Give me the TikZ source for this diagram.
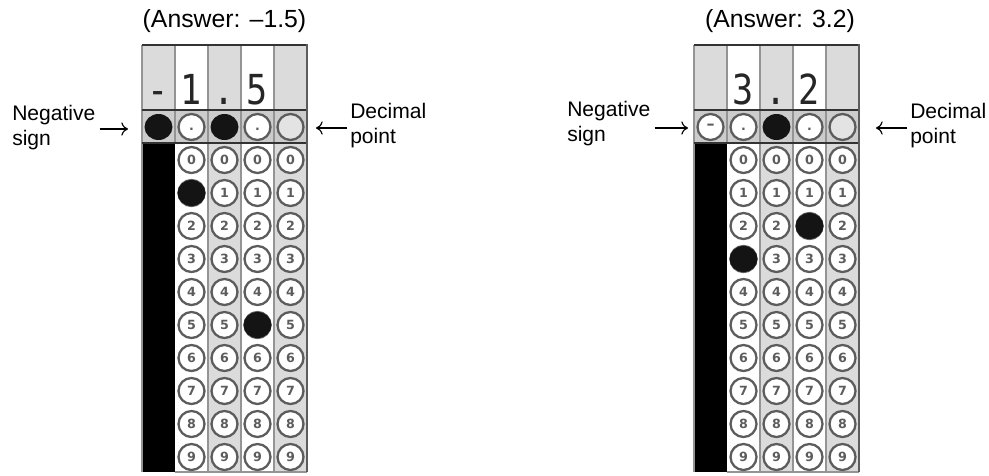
\documentclass[tikz,border=0pt]{standalone}
\usepackage{fontspec}
\setmainfont{Liberation Sans}
\newfontfamily\monof{DejaVu Sans Mono}
\newfontfamily\bubf{DejaVu Sans}
\usetikzlibrary{arrows.meta,shapes.geometric}
\definecolor{cellgray}{gray}{0.86}
\definecolor{ringgray}{gray}{0.36}
\definecolor{sepgray}{gray}{0.58}
\definecolor{rowgray}{gray}{0.80}
\definecolor{rulegray}{gray}{0.20}
\tikzset{
  bub/.style={circle,draw=ringgray,line width=1.7pt,fill=white,minimum size=19.5pt,inner sep=0pt,
    font=\bubf\bfseries\fontsize{9.5}{10}\selectfont,text=ringgray},
  bubdot/.style={bub,text height=5pt,text depth=0pt},
  bubempty/.style={bub,fill=gray!22},
  filledbub/.style={ellipse,fill=black!92,minimum width=21pt,minimum height=19.5pt,inner sep=0pt},
  hdr/.style={font=\monof\fontsize{31}{31}\selectfont,anchor=base,inner sep=0pt,text=black!85,xscale=0.85},
  ttl/.style={font=\fontsize{18.6}{22}\selectfont,inner sep=0pt},
  lbl/.style={font=\fontsize{15.8}{18.8}\selectfont,align=left,inner sep=0pt},
  arr/.style={line width=0.85pt,-{Computer Modern Rightarrow[length=5pt,width=10pt]}},
  sep/.style={sepgray,line width=1.4pt},
  rule/.style={rulegray,line width=1.6pt}
}
\newcommand\sheetframe[2]{%
\begin{scope}[shift={(#2,0)}]
  \foreach \c/\col in {0/cellgray,1/white,2/cellgray,3/white,4/cellgray}
    \fill[\col] (\c*33,45) rectangle ++(33,65);
  \fill[rowgray] (0,110) rectangle (165,143);
  \fill[black] (0,143) rectangle (33,472);
  \foreach \c/\col in {1/white,2/cellgray,3/white,4/cellgray}
    \fill[\col] (\c*33,143) rectangle ++(33,329);
  \foreach \c in {1,...,4} {
    \draw[sep] (\c*33,45) -- (\c*33,110);
    \draw[sep] (\c*33,110) -- (\c*33,143);
  }
  \foreach \c in {2,...,4} \draw[sep] (\c*33,143) -- (\c*33,472);
  \draw[sepgray,line width=0.8pt] (0,45) -- (0,472);
  \draw[sepgray,line width=0.8pt] (33,472) -- (165,472);
  \draw[rule] (0,45) -- (165,45);
  \draw[rule] (0,110) -- (165,110);
  \draw[rule,line width=2pt] (0,143) -- (165,143);
  \draw[rulegray!80,line width=1.8pt] (165,44) -- (165,472);
  \foreach \c in {1,...,4}
    \foreach \r in {0,...,9}
      \node[bub] (#1-\c-\r) at (\c*33+16.5,160+\r*33) {\r};
  \node[bubdot] (#1-d1) at (49.5,127) {.};
  \node[bubdot] (#1-d3) at (115.5,127) {.};
  \node[bubempty] (#1-d4) at (148.5,127) {};
\end{scope}}
\begin{document}
\begin{tikzpicture}[x=0.75pt,y=-0.75pt]
\useasboundingbox (0,0) rectangle (989,475);
\fill[white] (0,0) rectangle (989,475);
% ---------- left sheet ----------
\sheetframe{L}{142}
\node[ttl] (L-title) at (224.5,21) {(Answer: –1.5)};
\node[hdr] (L-h0) at (158.5,104) {-};
\node[hdr] (L-h1) at (191.5,104) {1};
\node[hdr] (L-h2) at (224.5,104) {.};
\node[hdr] (L-h3) at (257.5,104) {5};
\node[filledbub] (L-neg) at (158.5,127) {};
\node[filledbub] (L-dec) at (224.5,127) {};
\node[filledbub] (L-f1) at (191.5,193) {};
\node[filledbub] (L-f5) at (257.5,325) {};
\node[lbl,anchor=west] (L-negtxt) at (12,128) {Negative\\sign};
\coordinate (L-negtip) at (128,129);
\draw[arr] ([xshift=3pt]L-negtxt.east |- L-negtip) -- (L-negtip);
\node[lbl,anchor=west] (L-dectxt) at (350,126) {Decimal\\point};
\coordinate (L-dectip) at (316,128);
\draw[arr] ([xshift=-2pt]L-dectxt.west |- L-dectip) -- (L-dectip);
% ---------- right sheet ----------
\sheetframe{R}{694}
\node[ttl] (R-title) at (780,21) {(Answer: 3.2)};
\node[hdr] (R-h1) at (743.5,104) {3};
\node[hdr] (R-h2) at (776.5,104) {.};
\node[hdr] (R-h3) at (809.5,104) {2};
\node[bub,font=\bubf\bfseries\fontsize{12}{12}\selectfont] (R-d0) at (710.5,127) {–};
\node[filledbub] (R-dec) at (776.5,127) {};
\node[filledbub] (R-f3) at (743.5,259) {};
\node[filledbub] (R-f2) at (809.5,226) {};
\node[lbl,anchor=west] (R-negtxt) at (567,124) {Negative\\sign};
\coordinate (R-negtip) at (688,128);
\draw[arr] ([xshift=3pt]R-negtxt.east |- R-negtip) -- (R-negtip);
\node[lbl,anchor=west] (R-dectxt) at (910,126) {Decimal\\point};
\coordinate (R-dectip) at (876,128);
\draw[arr] ([xshift=-2pt]R-dectxt.west |- R-dectip) -- (R-dectip);
\end{tikzpicture}
\end{document}
